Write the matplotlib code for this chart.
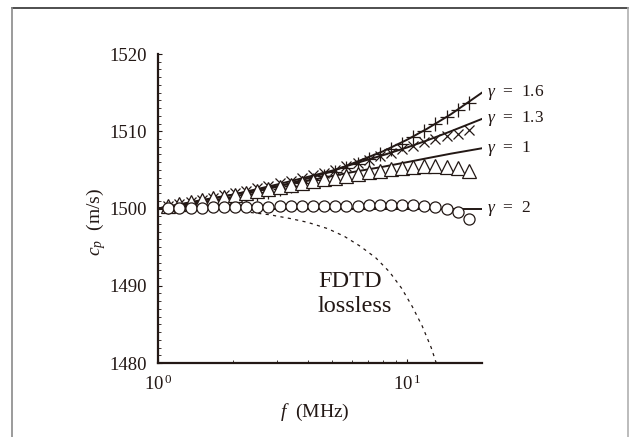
import numpy as np
import matplotlib
matplotlib.use("Agg")
import matplotlib.pyplot as plt
from matplotlib.ticker import MultipleLocator, FixedLocator, NullFormatter
from matplotlib.lines import Line2D

plt.rcParams['font.family'] = ['Liberation Serif', 'DejaVu Serif']
plt.rcParams['mathtext.fontset'] = 'custom'
plt.rcParams['mathtext.rm'] = 'Liberation Serif'
plt.rcParams['mathtext.it'] = 'Liberation Serif:italic'

ink = '#231815'

# frequencies of the theory curves (MHz)
f_line = [1.0, 1.5, 2.0, 3.0, 4.0, 5.0, 6.0, 8.0, 10.0, 12.0, 15.0, 20.0]
c_line_16 = [1500.0, 1500.8, 1501.5, 1502.8, 1503.9, 1504.8, 1505.8, 1507.4, 1508.9, 1510.3, 1512.2, 1515.0]
c_line_13 = [1500.0, 1501.0, 1501.8, 1503.1, 1504.1, 1504.9, 1505.7, 1506.9, 1507.9, 1508.8, 1510.0, 1511.6]
c_line_10 = [1500.0, 1501.1, 1501.8, 1502.9, 1503.6, 1504.2, 1504.7, 1505.4, 1506.0, 1506.5, 1507.1, 1507.8]
c_line_20 = [1500.0, 1500.0, 1500.0, 1500.0, 1500.0, 1500.0, 1500.0, 1500.0, 1500.0, 1500.0, 1500.0, 1500.0]

# simulated points (MHz)
f_sim = [1.100, 1.219, 1.351, 1.498, 1.660, 1.840, 2.039, 2.261, 2.506, 2.777,
         3.079, 3.413, 3.783, 4.193, 4.648, 5.152, 5.711, 6.330, 7.015, 7.777,
         8.620, 9.552, 10.59, 11.74, 13.01, 14.42, 15.98, 17.71]
c_sim_16 = [1500.2, 1500.35, 1500.5, 1500.7, 1500.9, 1501.1, 1501.3, 1501.55, 1501.85, 1502.2,
            1502.55, 1502.9, 1503.3, 1503.75, 1504.2, 1504.7, 1505.2, 1505.8, 1506.4, 1507.0,
            1507.7, 1508.4, 1509.2, 1510.0, 1510.9, 1511.8, 1512.7, 1513.7]
c_sim_13 = [1500.3, 1500.6, 1500.85, 1501.1, 1501.4, 1501.7, 1502.0, 1502.3, 1502.6, 1502.95,
            1503.3, 1503.6, 1503.95, 1504.3, 1504.65, 1505.05, 1505.45, 1505.9, 1506.3, 1506.75,
            1507.2, 1507.7, 1508.15, 1508.6, 1509.0, 1509.35, 1509.7, 1510.2]
c_sim_10 = [1500.3, 1500.55, 1500.8, 1501.05, 1501.3, 1501.55, 1501.8, 1502.05, 1502.3, 1502.55,
            1502.8, 1503.05, 1503.3, 1503.55, 1503.8, 1504.0, 1504.25, 1504.5, 1504.7, 1504.9,
            1505.1, 1505.3, 1505.4, 1505.5, 1505.5, 1505.4, 1505.2, 1504.9]
c_sim_20 = [1500.1, 1500.1, 1500.1, 1500.1, 1500.15, 1500.2, 1500.2, 1500.2, 1500.25, 1500.25,
            1500.3, 1500.3, 1500.3, 1500.3, 1500.3, 1500.35, 1500.35, 1500.35, 1500.4, 1500.4,
            1500.4, 1500.4, 1500.4, 1500.3, 1500.2, 1500.0, 1499.5, 1498.6]

# lossless FDTD
f_fdtd = [2.2, 2.8, 3.4, 4.0, 4.8, 5.6, 6.5, 7.5, 8.5, 9.5, 10.5, 11.5, 12.5, 13.1]
c_fdtd = [1499.6, 1499.2, 1498.7, 1498.2, 1497.4, 1496.4, 1495.1, 1493.6, 1491.8, 1489.7,
          1487.3, 1484.8, 1482.0, 1480.0]

gamma_labels = ['1.6', '1.3', '1', '2']

fig = plt.figure(figsize=(6.29, 4.37), dpi=100)
ax = fig.add_axes([0.2512, 0.1693, 0.5151, 0.7071])

lines = [c_line_16, c_line_13, c_line_10, c_line_20]
for c in lines:
    ax.plot(f_line, c, color=ink, lw=1.4, zorder=2)

ax.plot(f_fdtd, c_fdtd, color=ink, lw=0.9, ls=(0, (2.5, 3.5)), zorder=1)

ms = dict(color=ink, ls='none', mew=0.9, zorder=3)
ax.plot(f_sim, c_sim_16, marker='+', ms=9.5, **ms)
ax.plot(f_sim, c_sim_13, marker='x', ms=7.5, **ms)
ax.plot(f_sim, c_sim_10, marker='^', ms=10, mfc='white', **ms)
ax.plot(f_sim, c_sim_20, marker='o', ms=8, mfc='white', **ms)

for c, g in zip(lines, gamma_labels):
    ax.text(21, c[-1], r'$\gamma$  =  ' + g, fontsize=12.5, color=ink,
            va='center', ha='left', clip_on=False)

ax.text(4.39, 1490.6, 'FDTD', fontsize=17.5, color=ink, va='center', ha='left')
ax.text(4.39, 1487.3, 'lossless', fontsize=17.5, color=ink, va='center', ha='left')

ax.set_xscale('log')
ax.set_xlim(1, 20)
ax.set_ylim(1480, 1520)
ax.xaxis.set_major_locator(FixedLocator([1, 10]))
ax.xaxis.set_minor_locator(FixedLocator([2, 3, 4, 5, 6, 7, 8, 9]))
ax.xaxis.set_minor_formatter(NullFormatter())
ax.set_xticklabels([r'$\mathrm{10}^{\,0}$', r'$\mathrm{10}^{\,1}$'])
ax.yaxis.set_major_locator(MultipleLocator(10))
ax.yaxis.set_minor_locator(MultipleLocator(1))

for s in ['top', 'right']:
    ax.spines[s].set_visible(False)
for s in ['left', 'bottom']:
    ax.spines[s].set_linewidth(1.6)
    ax.spines[s].set_color(ink)

ax.tick_params(which='both', direction='in', colors=ink, labelsize=13.5)
ax.tick_params(which='major', length=3, width=0.8)
ax.tick_params(which='minor', length=2, width=0.6)
ax.tick_params(axis='x', pad=8)
ax.tick_params(axis='y', pad=8)

ax.set_xlabel(r'$f$  (MHz)', fontsize=14, color=ink)
ax.xaxis.set_label_coords(0.485, -0.125)
ax.set_ylabel(r'$c_p$  (m/s)', fontsize=14, color=ink, va='center')
ax.yaxis.set_label_coords(-0.19, 0.456)

# screenshot frame
fig.add_artist(Line2D([12/629, 628/629], [1-8/437, 1-8/437], color='#303030', lw=1.2))
fig.add_artist(Line2D([12/629, 12/629], [0, 1-8/437], color='#8a8a8a', lw=1.2))
fig.add_artist(Line2D([627.5/629, 627.5/629], [0, 1-8/437], color='#b0b0b0', lw=1.2))

fig.savefig('out.png', dpi=100)
